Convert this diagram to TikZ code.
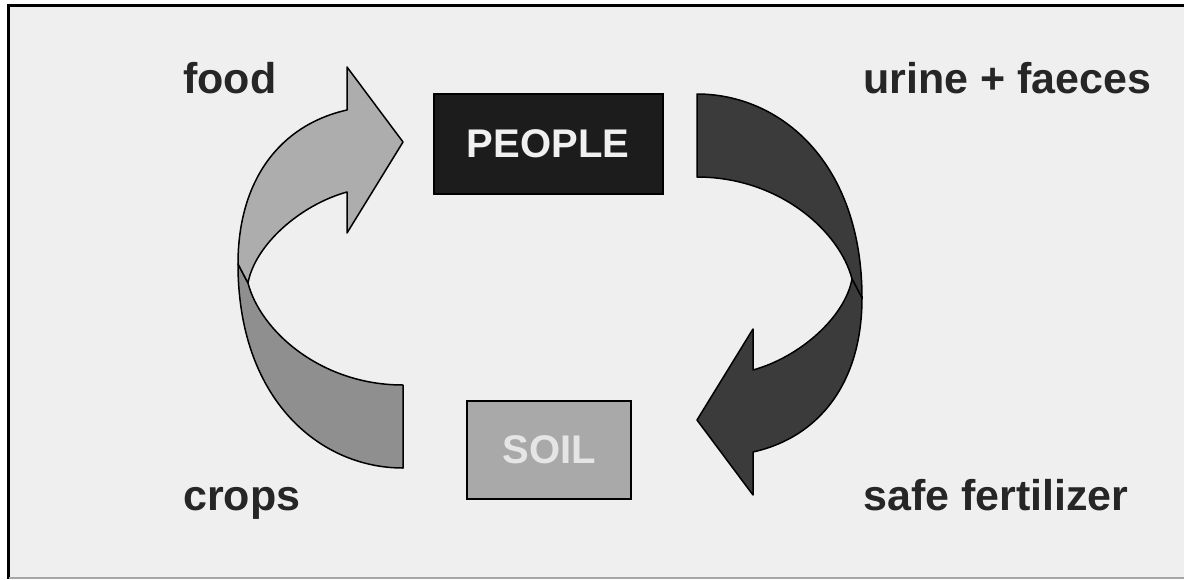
\documentclass[tikz,border=0pt]{standalone}
\usepackage{fontspec}
\setmainfont{Liberation Sans}
\definecolor{bg}{HTML}{EFEFEF}
\definecolor{lbl}{HTML}{262626}
\definecolor{lightarr}{HTML}{ADADAD}
\definecolor{midarr}{HTML}{8F8F8F}
\definecolor{darkarr}{HTML}{3B3B3B}
\definecolor{peoplefill}{HTML}{1C1C1C}
\definecolor{soilfill}{HTML}{A9A9A9}
\tikzset{
  lbltext/.style={font=\fontsize{43}{50}\selectfont\bfseries, text=lbl, inner sep=0pt, anchor=base west},
  ribbon/.style={draw=black, line width=1.5pt, line join=round},
  boxnode/.style={draw=black, line width=2pt, inner sep=0pt, font=\fontsize{40}{48}\selectfont\bfseries}
}
\begin{document}
\begin{tikzpicture}[x=1pt,y=-1pt]
\useasboundingbox (0,0) rectangle (1184,579);
\fill[white] (0,0) rectangle (1184,579);
\fill[bg] (9,6) rectangle (1184,577);
\draw[black, line width=3pt] (8.5,4.5) -- (8.5,579);
\draw[black, line width=2.5pt] (7,5.5) -- (1184,5.5);
\draw[gray!70, line width=2pt] (9,577.5) -- (1184,577.5);

% left arrow (crops -> food)
\newcommand{\upperpiece}[1]{%
  \path[ribbon, fill=#1] (238,264) -- (248,283) .. controls (255,245) and (300,205) .. (347,192)
    -- (347,233) -- (403,142) -- (347,67) -- (347,110)
    .. controls (280,125) and (238,180) .. (238,264) -- cycle;}
\newcommand{\lowerpiece}[1]{%
  \path[ribbon, fill=#1] (238,264) .. controls (238,400) and (320,468) .. (403,468)
    -- (403,385) .. controls (320,385) and (260,330) .. (248,283) -- cycle;}
\lowerpiece{midarr}
\upperpiece{lightarr}
% right arrow (urine + faeces -> safe fertilizer), 180 degree rotation
\begin{scope}[rotate around={180:(550,281)}]
\lowerpiece{darkarr}
\upperpiece{darkarr}
\end{scope}

\node[boxnode, fill=peoplefill, text=white!94!black, minimum width=229pt, minimum height=100pt] (people) at (548,144) {PEOPLE};
\node[boxnode, fill=soilfill, text=white!90!black, minimum width=164pt, minimum height=98pt] (soil) at (549,450) {SOIL};

\node[lbltext] (food) at (183,93) {food};
\node[lbltext] (urine) at (863,93) {urine + faeces};
\node[lbltext] (crops) at (183,510) {crops};
\node[lbltext] (fert) at (863,510) {safe fertilizer};
\end{tikzpicture}
\end{document}
